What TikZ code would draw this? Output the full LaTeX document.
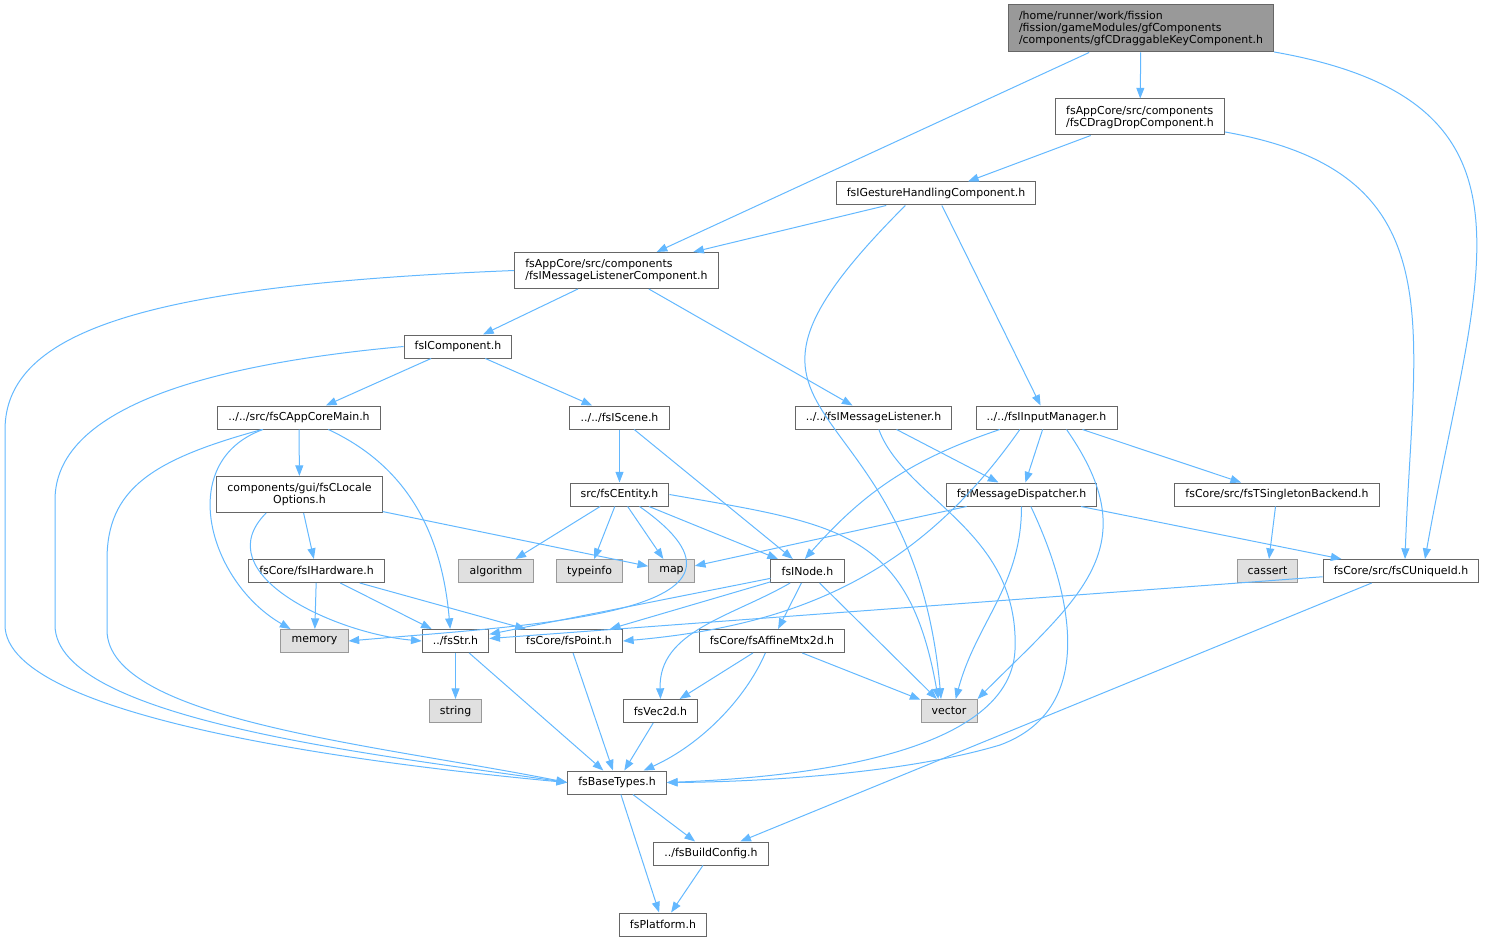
\documentclass[tikz,border=0pt]{standalone}
\usepackage{fontspec}
\setmainfont{DejaVu Sans}
\usetikzlibrary{arrows.meta}
\definecolor{edgeblue}{HTML}{63B8FF}
\definecolor{boxline}{HTML}{666666}
\definecolor{sysline}{HTML}{999999}
\definecolor{sysfill}{HTML}{E0E0E0}
\definecolor{rootfill}{HTML}{999999}

\begin{document}
\begin{tikzpicture}[x=0.75pt,y=0.75pt,
  hdr/.style={draw=boxline, fill=white, line width=0.75pt, inner xsep=8pt, inner ysep=2pt,
    minimum height=17.25pt, font=\fontsize{8.2}{9}\selectfont},
  syshdr/.style={hdr, draw=sysline, fill=sysfill},
  twoline/.style={align=left, minimum height=27pt},
  roothdr/.style={hdr, fill=rootfill, align=left, minimum height=35.25pt},
  dep/.style={draw, color=edgeblue, line width=0.75pt, -{Triangle[length=8pt,width=6pt]}}]
  \useasboundingbox (0,0) rectangle (1485,-941);

  \node (root) [roothdr] at (1141,-28.5) {/home/runner/work/fission\\/fission/gameModules/gfComponents\\/components/gfCDraggableKeyComponent.h};
  \node (dragdrop) [hdr, twoline] at (1140,-117) {fsAppCore/src/components\\/fsCDragDropComponent.h};
  \node (gesture) [hdr] at (936,-193.5) {fsIGestureHandlingComponent.h};
  \node (msglistcomp) [hdr, twoline] at (616.5,-270.5) {fsAppCore/src/components\\/fsIMessageListenerComponent.h};
  \node (icomp) [hdr] at (458,-346.5) {fsIComponent.h};
  \node (appcoremain) [hdr] at (299,-417.5) {../../src/fsCAppCoreMain.h};
  \node (iscene) [hdr] at (619.5,-417.5) {../../fsIScene.h};
  \node (msglistener) [hdr] at (873.5,-417.5) {../../fsIMessageListener.h};
  \node (inputmgr) [hdr] at (1046.5,-417.5) {../../fsIInputManager.h};
  \node (localeopts) [hdr, twoline, align=center] at (299.5,-494.5) {components/gui/fsCLocale\\Options.h};
  \node (centity) [hdr] at (619.5,-494.5) {src/fsCEntity.h};
  \node (msgdispatcher) [hdr] at (1021.5,-494.5) {fsIMessageDispatcher.h};
  \node (singleton) [hdr] at (1277,-494.5) {fsCore/src/fsTSingletonBackend.h};
  \node (ihardware) [hdr] at (316.5,-571) {fsCore/fsIHardware.h};
  \node (algorithm) [syshdr] at (496,-571) {algorithm};
  \node (typeinfo) [syshdr] at (589.5,-571) {typeinfo};
  \node (map) [syshdr] at (671.5,-571) {map};
  \node (inode) [hdr] at (807.5,-571) {fsINode.h};
  \node (cassert) [syshdr] at (1267.5,-571) {cassert};
  \node (uniqueid) [hdr] at (1401,-571) {fsCore/src/fsCUniqueId.h};
  \node (memory) [syshdr] at (314.5,-641) {memory};
  \node (fsstr) [hdr] at (455.5,-641) {../fsStr.h};
  \node (point) [hdr] at (569,-641) {fsCore/fsPoint.h};
  \node (affine) [hdr] at (772,-641) {fsCore/fsAffineMtx2d.h};
  \node (string) [syshdr] at (455.5,-711) {string};
  \node (vec2d) [hdr] at (660.5,-711) {fsVec2d.h};
  \node (vector) [syshdr] at (949,-711) {vector};
  \node (basetypes) [hdr] at (617,-782.5) {fsBaseTypes.h};
  \node (buildconfig) [hdr] at (711,-853.5) {../fsBuildConfig.h};
  \node (platform) [hdr] at (663,-924.5) {fsPlatform.h};

  \path [dep]
  (root) edge (msglistcomp)
  (root) edge (dragdrop)
  (dragdrop) edge (gesture)
  (gesture) edge (msglistcomp)
  (gesture) edge (inputmgr)
  (msglistcomp) edge (icomp)
  (msglistcomp) edge (msglistener)
  (icomp) edge (appcoremain)
  (icomp) edge (iscene)
  (appcoremain) edge (localeopts)
  (iscene) edge (centity)
  (iscene) edge (inode)
  (msglistener) edge (msgdispatcher)
  (inputmgr) edge (msgdispatcher)
  (inputmgr) edge (singleton)
  (localeopts) edge (ihardware)
  (localeopts) edge (map)
  (centity) edge (algorithm)
  (centity) edge (typeinfo)
  (centity) edge (map)
  (centity) edge (inode)
  (msgdispatcher) edge (map)
  (msgdispatcher) edge (uniqueid)
  (singleton) edge (cassert)
  (ihardware) edge (memory)
  (ihardware) edge (fsstr)
  (ihardware) edge (point)
  (inode) edge (fsstr)
  (inode) edge (point)
  (inode) edge (affine)
  (inode) edge (vector)
  (uniqueid) edge (fsstr)
  (uniqueid) edge (buildconfig)
  (fsstr) edge (string)
  (fsstr) edge (basetypes)
  (point) edge (basetypes)
  (affine) edge (vec2d)
  (affine) edge (vector)
  (vec2d) edge (basetypes)
  (basetypes) edge (buildconfig)
  (basetypes) edge (platform)
  (buildconfig) edge (platform);

  % curved includes
  \draw [dep] (root.-10) to[out=-10,in=80,looseness=1.4] ([xshift=18pt]uniqueid.north);
  \draw [dep] (dragdrop.-10) to[out=-10,in=88,looseness=1.3] ([xshift=3pt]uniqueid.north);
  \draw [dep] ([xshift=-23pt]gesture.south) to[out=-135,in=95,looseness=1.7] ([xshift=-6pt]vector.north);
  \draw [dep] ([xshift=-27pt]appcoremain.south) to[out=-160,in=150,looseness=1.2] ([xshift=-18pt]memory.north);
  \draw [dep] ([xshift=22pt]appcoremain.south) to[out=-25,in=95] ([xshift=-4pt]fsstr.north);
  \draw [dep] ([xshift=-35pt]inputmgr.south) to[bend right=15] ([xshift=-2pt]inode.north);
  \draw [dep] ([xshift=-20pt]inputmgr.south) to[out=-125,in=5] (point.east);
  \draw [dep] ([xshift=15pt]inputmgr.south) to[out=-55,in=45,looseness=1.3] (vector.north east);
  \draw [dep] ([xshift=-25pt]localeopts.south) to[out=-135,in=175,looseness=1.1] (fsstr.west);
  \draw [dep] (centity.east) to[out=-10,in=100,looseness=1.3] ([xshift=-8pt]vector.north);
  \draw [dep] ([xshift=15pt]centity.south) to[out=-35,in=5,looseness=1.5] (memory.east);
  \draw [dep] (msgdispatcher.south) to[out=-90,in=75] ([xshift=5pt]vector.north);
  \draw [dep] ([xshift=-13pt]inode.south) to[out=-150,in=92] (vec2d.north);
  \draw [dep] ([xshift=-5pt]affine.south) .. controls (745,-700) and (700,-745) .. ([xshift=20pt]basetypes.north);

  % long loops round the left and right sides
  \draw [dep] (msglistcomp.west) .. controls (150,-285) and (5,-330) .. (5,-430) -- (5,-625)
    .. controls (5,-720) and (380,-765) .. (basetypes.west);
  \draw [dep] (icomp.west) .. controls (200,-365) and (55,-410) .. (55,-500) -- (55,-625)
    .. controls (55,-720) and (380,-755) .. (basetypes.west);
  \draw [dep] (appcoremain.-162) .. controls (150,-460) and (107,-490) .. (107,-560) -- (107,-630)
    .. controls (107,-720) and (380,-745) .. (basetypes.west);
  \draw [dep] ([xshift=4pt]msglistener.south) .. controls (905,-500) and (1020,-530) .. (1015,-650)
    .. controls (1010,-760) and (780,-778) .. (basetypes.east);
  \draw [dep] ([xshift=7pt]msgdispatcher.south) .. controls (1075,-600) and (1095,-710) .. (1000,-745)
    .. controls (900,-775) and (750,-782) .. (basetypes.east);
\end{tikzpicture}
\end{document}
